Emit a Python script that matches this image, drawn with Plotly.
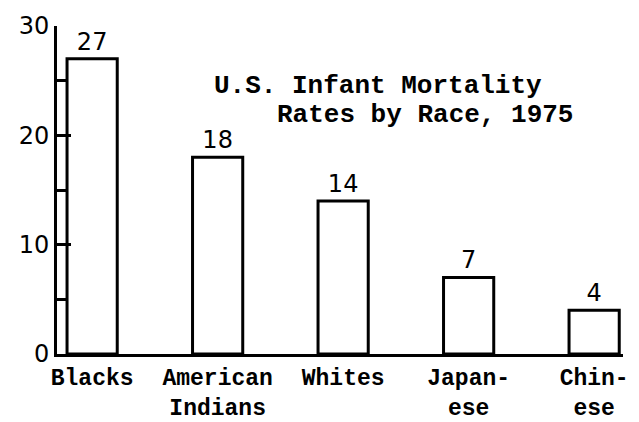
import plotly.graph_objects as go

categories = ["Blacks", "American<br>Indians", "Whites", "Japan-<br>ese", "Chin-<br>ese"]
rates = [27, 18, 14, 7, 4]
y_ticks = [0, 10, 20, 30]
title_line1 = "U.S. Infant Mortality"
title_line2 = "Rates by Race, 1975"

fig = go.Figure()
fig.add_trace(go.Bar(
    x=categories,
    y=rates,
    text=[str(v) for v in rates],
    textposition="outside",
    textfont=dict(family="DejaVu Sans", size=24, color="black"),
    marker=dict(color="white", line=dict(color="black", width=3)),
    cliponaxis=False,
))

fig.add_annotation(text="<b>" + title_line1 + "</b>", xref="paper", yref="paper", x=0.274, y=0.816,
                   xanchor="left", yanchor="middle", showarrow=False,
                   font=dict(family="Liberation Mono", size=26, color="black"))
fig.add_annotation(text="<b>" + title_line2 + "</b>", xref="paper", yref="paper", x=0.386, y=0.730,
                   xanchor="left", yanchor="middle", showarrow=False,
                   font=dict(family="Liberation Mono", size=26, color="black"))

fig.update_layout(
    width=639, height=422,
    margin=dict(l=49, r=24, t=18, b=76),
    paper_bgcolor="white", plot_bgcolor="white",
    showlegend=False,
    bargap=0.6,
    xaxis=dict(
        range=[-0.28, 4.23],
        showline=True, linecolor="black", linewidth=3,
        showgrid=False, ticks="",
        tickfont=dict(family="Liberation Mono", size=23, color="black", weight="bold"),
        automargin=False,
    ),
    yaxis=dict(
        range=[0, 30],
        tickvals=y_ticks,
        showline=True, linecolor="black", linewidth=3,
        showgrid=False, zeroline=False,
        ticks="inside", ticklen=14, tickwidth=3, tickcolor="black",
        minor=dict(ticks="inside", ticklen=9, tickwidth=3, tickcolor="black", dtick=5, showgrid=False),
        tickfont=dict(family="DejaVu Sans", size=24, color="black"),
        automargin=False,
    ),
)

fig.write_html("out.html")
